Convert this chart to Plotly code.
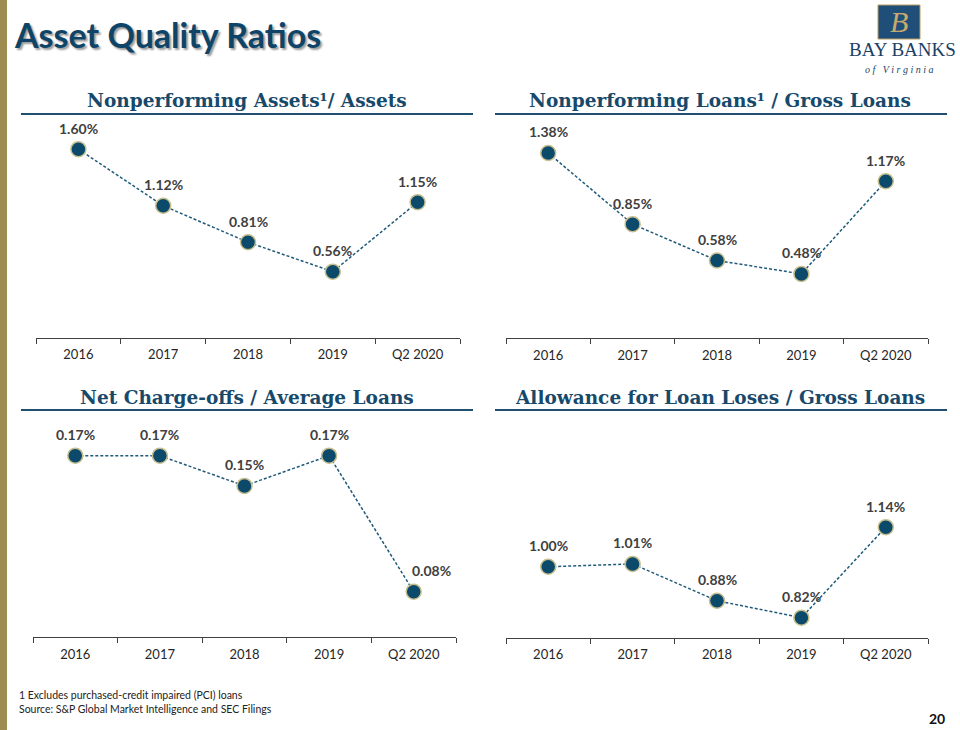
import plotly.graph_objects as go

W, H = 960, 730

categories = ["2016", "2017", "2018", "2019", "Q2 2020"]
npa_assets = [1.60, 1.12, 0.81, 0.56, 1.15]
npl_loans = [1.38, 0.85, 0.58, 0.48, 1.17]
nco_loans = [0.17, 0.17, 0.15, 0.17, 0.08]
all_loans = [1.00, 1.01, 0.88, 0.82, 1.14]

panel_titles = [
    "Nonperforming Assets¹/ Assets",
    "Nonperforming Loans¹ / Gross Loans",
    "Net Charge-offs / Average Loans",
    "Allowance for Loan Loses / Gross Loans",
]

title_text = "Asset Quality Ratios"
footnotes = ["1 Excludes purchased-credit impaired (PCI) loans",
             "Source: S&P Global Market Intelligence and SEC Filings"]
page_no = "20"

DARK = "#0E4467"
MARK = "#0B4A6B"
LINE = "#1F5A7A"
GOLD = "#9E8B4F"

def px(x):
    return x / W

def py(y):
    return 1 - y / H

# panel layout: (x0, x1, ybottom, ytop, yrange, values, label x-shifts)
panels = [
    (36, 460, 337.6, 130, [0, 1.763], npa_assets, [0, 0, 0, 0, 0]),
    (506, 928, 338.4, 130, [0, 1.551], npl_loans, [0, 0, 0, 0, 0]),
    (33, 456, 637, 425, [0.05, 0.1903], nco_loans, [0, 0, 0, 0, 18]),
    (506, 928, 637.5, 425, [0.75, 1.501], all_loans, [0, 0, 0, 0, 0]),
]

fig = go.Figure()
annotations = []
layout_axes = {}

for i, (x0, x1, yb, yt, yr, vals, xsh) in enumerate(panels):
    n = "" if i == 0 else str(i + 1)
    fig.add_trace(go.Scatter(
        x=categories, y=vals, mode="lines+markers",
        xaxis="x" + n, yaxis="y" + n,
        line=dict(color=LINE, width=1.5, dash="3px,2px"),
        marker=dict(size=15, color=MARK, line=dict(color="#C8BF8F", width=1.5)),
        cliponaxis=False, showlegend=False, hoverinfo="skip",
    ))
    for k, (v, s) in enumerate(zip(vals, xsh)):
        annotations.append(dict(
            x=k, y=v, xref="x" + n, yref="y" + n, text=f"{v:.2f}%",
            showarrow=False, yshift=21, xshift=s,
            font=dict(family="Lato", size=14, color="#404040", weight="bold"),
        ))
    layout_axes["xaxis" + n] = dict(
        domain=[px(x0), px(x1)], anchor="y" + n, type="category",
        categoryorder="array", categoryarray=categories, range=[-0.5, 4.5],
        showline=True, linecolor="#404040", linewidth=1,
        ticks="outside", tickson="boundaries", ticklen=5, tickcolor="#404040",
        showgrid=False, zeroline=False, fixedrange=True, ticklabelstandoff=5,
        tickfont=dict(family="Lato", size=13, color="#262626"),
    )
    layout_axes["yaxis" + n] = dict(
        domain=[py(yb), py(yt)], anchor="x" + n, range=yr, visible=False,
        fixedrange=True,
    )

# Panel titles
title_pos = [(247, 100), (720, 100), (247, 397), (720, 397)]
for t, (cx, cy) in zip(panel_titles, title_pos):
    annotations.append(dict(
        x=px(cx), y=py(cy), xref="paper", yref="paper", text=t,
        showarrow=False, xanchor="center", yanchor="middle",
        font=dict(family="DejaVu Serif", size=18.5, color="#17496B", weight="bold"),
    ))

# Main title with shadow
annotations.append(dict(x=px(12), y=py(34), xref="paper", yref="paper", text=title_text,
                        showarrow=False, xanchor="left", yanchor="middle",
                        font=dict(family="Lato", size=34, color=DARK, weight="bold",
                                  shadow="2px 2px 2px #9a9a9a")))

# Footnotes
for j, t in enumerate(footnotes):
    annotations.append(dict(x=px(17), y=py(695 + j * 14), xref="paper", yref="paper", text=t,
                            showarrow=False, xanchor="left", yanchor="middle",
                            font=dict(family="Lato", size=10.5, color="#222222")))
annotations.append(dict(x=px(947), y=py(718), xref="paper", yref="paper", text=page_no,
                        showarrow=False, xanchor="right", yanchor="middle",
                        font=dict(family="Lato", size=14, color="#111111", weight="bold")))

# Logo
annotations.append(dict(x=px(899), y=py(22), xref="paper", yref="paper", text="<i>B</i>",
                        showarrow=False, xanchor="center", yanchor="middle",
                        font=dict(family="Liberation Serif", size=30, color="#C9A96B")))
annotations.append(dict(x=px(902), y=py(49), xref="paper", yref="paper", text="BAY BANKS",
                        showarrow=False, xanchor="center", yanchor="middle",
                        font=dict(family="Liberation Serif", size=19, color="#1B3F66")))
annotations.append(dict(x=px(899), y=py(69), xref="paper", yref="paper",
                        text="<i>o f   V i r g i n i a</i>",
                        showarrow=False, xanchor="center", yanchor="middle",
                        font=dict(family="Liberation Serif", size=10, color="#1B3F66")))

shapes = [
    dict(type="rect", xref="paper", yref="paper", x0=0, x1=px(7), y0=0, y1=1,
         fillcolor=GOLD, line=dict(width=0), layer="below"),
    dict(type="line", xref="paper", yref="paper", x0=px(21), x1=px(473), y0=py(114), y1=py(114),
         line=dict(color="#1F4E6E", width=2)),
    dict(type="line", xref="paper", yref="paper", x0=px(495), x1=px(947), y0=py(114), y1=py(114),
         line=dict(color="#1F4E6E", width=2)),
    dict(type="line", xref="paper", yref="paper", x0=px(21), x1=px(473), y0=py(410), y1=py(410),
         line=dict(color="#1F4E6E", width=2)),
    dict(type="line", xref="paper", yref="paper", x0=px(495), x1=px(947), y0=py(410), y1=py(410),
         line=dict(color="#1F4E6E", width=2)),
    dict(type="rect", xref="paper", yref="paper", x0=px(878), x1=px(920), y0=py(39), y1=py(5),
         fillcolor="#1F4E79", line=dict(color="#B89C5E", width=1), layer="below"),
]

fig.update_layout(
    width=W, height=H, margin=dict(l=0, r=0, t=0, b=0),
    paper_bgcolor="white", plot_bgcolor="white",
    annotations=annotations, shapes=shapes, **layout_axes,
)

fig.write_html("out.html", config={"displayModeBar": False},
               post_script="document.body.style.margin='0';document.body.style.overflow='hidden';")
